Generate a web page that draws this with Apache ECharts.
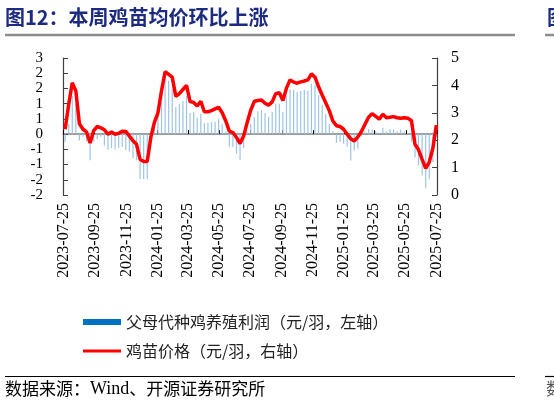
<!DOCTYPE html>
<html>
<head>
<meta charset="utf-8">
<script src="https://cdn.jsdelivr.net/npm/echarts@6/dist/echarts.min.js"></script>
<style>
  html, body { margin: 0; padding: 0; background: #fff; }
  #chart { width: 554px; height: 402px; }
</style>
</head>
<body>
<div id="chart"></div>
<script>
// weekly readings, first week 2023-07-28
const firstWeek = "2023-07-28";

const tickLabels = [
  "2023-07-25", "2023-09-25", "2023-11-25", "2024-01-25", "2024-03-25",
  "2024-05-25", "2024-07-25", "2024-09-25", "2024-11-25", "2025-01-25",
  "2025-03-25", "2025-05-25", "2025-07-25"
];

// left axis ticks (labels are rounded to whole numbers in the source)
const leftTicks = [-2.4, -1.8, -1.2, -0.6, 0, 0.6, 1.2, 1.8, 2.4, 3];
const rightTicks = [0, 1, 2, 3, 4, 5];

// 父母代种鸡养殖利润（元/羽，左轴）
const profit = [
  -0.30, 0.40, 1.50, 1.20, -0.25, -0.10, -0.30, -1.03, -0.30, -0.20,
  -0.10, -0.45, -0.62, -0.55, -0.60, -0.55, -0.50, -0.62, -0.70, -0.95,
  -1.03, -1.77, -1.77, -1.77, -0.20, 0.45, 0.80, 1.26, 2.25, 2.10,
  1.79, 1.07, 1.20, 1.30, 1.50, 0.83, 0.87, 0.64, 0.80, 0.43,
  0.45, 0.47, 0.49, 0.60, 0.40, 0.10, -0.49, -0.50, -0.78, -1.01,
  -0.55, 0.10, 0.41, 0.67, 0.90, 0.94, 0.83, 0.67, 0.87, 1.20,
  1.20, 0.87, 1.50, 1.77, 1.75, 1.66, 1.70, 1.75, 1.72, 1.99,
  1.95, 1.53, 1.16, 0.80, 0.40, 0.12, -0.34, -0.30, -0.38, -0.50,
  -1.04, -0.65, -0.58, -0.10, 0.10, 0.20, 0.18, 0.10, 0.05, 0.24,
  0.10, 0.20, 0.18, 0.10, 0.18, 0.10, 0.05, -0.30, -0.91, -1.24,
  -1.63, -2.13, -1.77, -1.10, 0.30
];

// 鸡苗价格（元/羽，右轴）
const chickPrice = [
  2.40, 3.30, 4.10, 3.80, 2.60, 2.40, 2.30, 1.90, 2.35, 2.50,
  2.45, 2.38, 2.22, 2.30, 2.22, 2.25, 2.33, 2.32, 2.15, 1.98,
  1.85, 1.30, 1.22, 1.22, 2.10, 2.65, 3.00, 3.80, 4.50, 4.40,
  4.30, 3.60, 3.70, 3.85, 4.00, 3.41, 3.38, 3.25, 3.42, 3.04,
  3.04, 3.08, 3.14, 3.20, 3.00, 2.70, 2.33, 2.28, 2.10, 1.88,
  2.15, 2.65, 3.10, 3.42, 3.45, 3.47, 3.35, 3.28, 3.40, 3.70,
  3.73, 3.45, 3.90, 4.20, 4.12, 4.08, 4.13, 4.16, 4.20, 4.42,
  4.30, 3.95, 3.65, 3.37, 3.08, 2.70, 2.53, 2.50, 2.40, 2.22,
  2.05, 1.97, 2.12, 2.32, 2.58, 2.84, 2.97, 2.87, 2.77, 2.95,
  2.82, 2.84, 2.86, 2.82, 2.80, 2.82, 2.80, 2.72, 1.85, 1.65,
  1.30, 0.97, 1.20, 1.70, 2.55
];

const profitName = "父母代种鸡养殖利润（元/羽，左轴）";
const priceName = "鸡苗价格（元/羽，右轴）";

const SERIF = "'Liberation Serif', 'Times New Roman', serif";
const CJK = "'Noto Sans CJK SC', sans-serif";

const t0 = echarts.time.parse(firstWeek).getTime();
const weeks = profit.map((_, i) => t0 + i * 7 * 86400000);
const tickTimes = tickLabels.map(s => echarts.time.parse(s).getTime());
const xMin = tickTimes[0];
const xMax = tickTimes[tickTimes.length - 1];

const chart = echarts.init(document.getElementById("chart"), null, { renderer: "canvas" });

const yAxisBase = {
  type: "value",
  axisLine: { show: true, onZero: false, lineStyle: { color: "#404040", width: 1.2 } },
  splitLine: { show: false }
};

chart.setOption({
  animation: false,
  backgroundColor: "#fff",
  grid: { left: 63, right: 117, top: 58, bottom: 207, containLabel: false },
  legend: {
    orient: "vertical",
    left: 78,
    top: 309,
    itemWidth: 38,
    itemHeight: 6,
    itemGap: 13,
    symbolKeepAspect: true,
    textStyle: { fontFamily: CJK, fontSize: 16, color: "#222" },
    data: [
      { name: profitName, icon: "rect", itemStyle: { color: "#0070C0" } },
      { name: priceName, icon: "path://M0,0H38V3H0Z", itemStyle: { color: "#FF0000" } }
    ]
  },
  xAxis: [
    {
      type: "time",
      min: xMin,
      max: xMax,
      position: "bottom",
      axisLine: { show: false, onZero: false },
      axisTick: { show: false },
      splitLine: { show: false },
      axisLabel: {
        customValues: tickTimes,
        rotate: 90,
        margin: 8,
        formatter: "{yyyy}-{MM}-{dd}",
        fontFamily: SERIF,
        fontSize: 16,
        color: "#000"
      }
    },
    {
      type: "time",
      min: xMin,
      max: xMax,
      position: "bottom",
      axisLine: { show: true, onZero: true, onZeroAxisIndex: 0, lineStyle: { color: "#7f7f7f", width: 1.5 } },
      axisTick: { show: true, inside: true, length: 4, customValues: tickTimes, lineStyle: { color: "#000", width: 1 } },
      axisLabel: { show: false },
      splitLine: { show: false }
    }
  ],
  yAxis: [
    Object.assign({}, yAxisBase, {
      min: leftTicks[0],
      max: leftTicks[leftTicks.length - 1],
      position: "left",
      axisTick: { show: true, inside: true, length: 5, customValues: leftTicks, lineStyle: { color: "#404040" } },
      axisLabel: {
        customValues: leftTicks,
        showMinLabel: true,
        showMaxLabel: true,
        margin: 20,
        lineHeight: 12,
        fontFamily: SERIF,
        fontSize: 15,
        color: "#000",
        formatter: v => String(Math.round(v) || 0)
      }
    }),
    Object.assign({}, yAxisBase, {
      min: rightTicks[0],
      max: rightTicks[rightTicks.length - 1],
      interval: 1,
      position: "right",
      axisTick: { show: true, inside: true, length: 5, lineStyle: { color: "#404040" } },
      axisLabel: { margin: 14, fontFamily: SERIF, fontSize: 16, color: "#000" }
    })
  ],
  series: [
    {
      name: profitName,
      type: "bar",
      xAxisIndex: 0,
      yAxisIndex: 0,
      barWidth: 1.2,
      itemStyle: { color: "#9DC3E6" },
      data: weeks.map((t, i) => [t, profit[i]])
    },
    {
      name: priceName,
      type: "line",
      xAxisIndex: 0,
      yAxisIndex: 1,
      symbol: "none",
      lineStyle: { color: "#FF0000", width: 3.5 },
      itemStyle: { color: "#FF0000" },
      data: weeks.map((t, i) => [t, chickPrice[i]])
    }
  ],
  graphic: [
    {
      type: "text", x: 5, y: 17,
      style: { text: "图12：本周鸡苗均价环比上涨", font: "bold 20px 'Noto Sans CJK SC'", fill: "#1C2A80", verticalAlign: "middle" }
    },
    {
      type: "text", x: 547, y: 17,
      style: { text: "图", font: "bold 20px 'Noto Sans CJK SC'", fill: "#1C2A80", verticalAlign: "middle" }
    },
    { type: "line", shape: { x1: 5, y1: 35, x2: 515, y2: 35 }, style: { stroke: "#8c8c8c", lineWidth: 2.5 } },
    { type: "line", shape: { x1: 545, y1: 35, x2: 554, y2: 35 }, style: { stroke: "#8c8c8c", lineWidth: 2.5 } },
    { type: "line", shape: { x1: 5, y1: 376.5, x2: 515, y2: 376.5 }, style: { stroke: "#000", lineWidth: 1.2 } },
    { type: "line", shape: { x1: 545, y1: 376.5, x2: 554, y2: 376.5 }, style: { stroke: "#000", lineWidth: 1.2 } },
    {
      type: "text", x: 5, y: 389,
      style: {
        text: "{a|数据来源：}{b|Wind}{a|、开源证券研究所}",
        verticalAlign: "middle",
        rich: {
          a: { fontFamily: CJK, fontSize: 17, color: "#333" },
          b: { fontFamily: SERIF, fontSize: 18, color: "#333" }
        }
      }
    },
    {
      type: "text", x: 546, y: 389,
      style: { text: "数", font: "17px 'Noto Sans CJK SC'", fill: "#555", verticalAlign: "middle" }
    }
  ]
});

window.addEventListener("resize", () => chart.resize());
</script>
</body>
</html>
